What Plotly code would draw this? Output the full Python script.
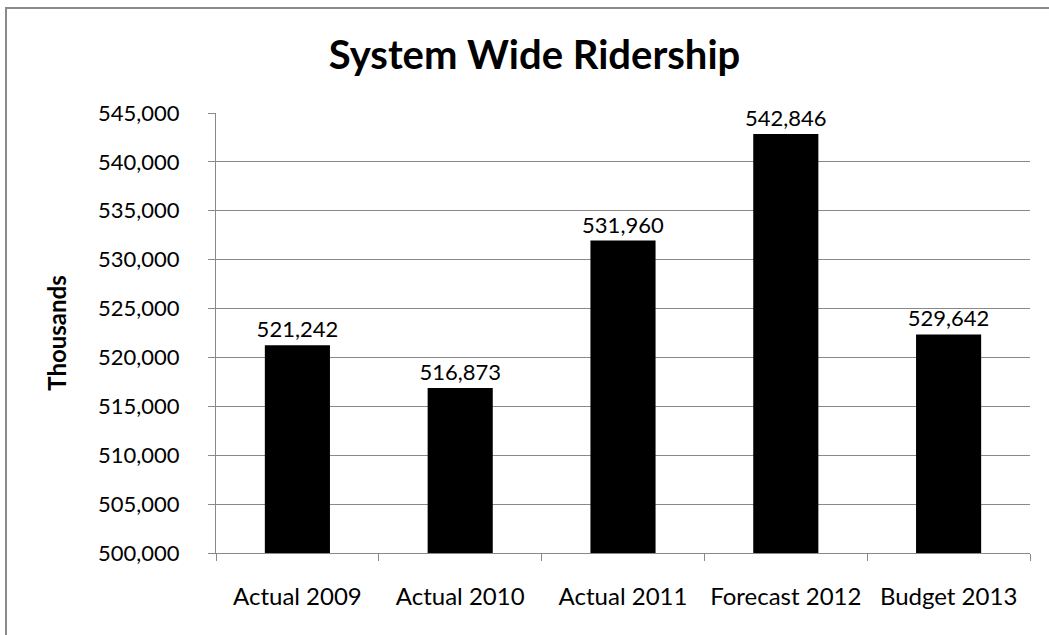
import plotly.graph_objects as go

categories = ["Actual 2009", "Actual 2010", "Actual 2011", "Forecast 2012", "Budget 2013"]
bar_values = [521242, 516873, 531960, 542846, 522350]
label_texts = ["521,242", "516,873", "531,960", "542,846", "529,642"]
y_ticks = [500000, 505000, 510000, 515000, 520000, 525000, 530000, 535000, 540000, 545000]

FONT = "Lato"
GRID = "#898989"

W, H = 1049, 635
L, R, T, B = 216, 19, 113, 82

fig = go.Figure(go.Bar(
    x=categories, y=bar_values,
    marker=dict(color="black", line=dict(width=0)),
    text=label_texts, textposition="outside", cliponaxis=False,
    constraintext="none",
    textfont=dict(family=FONT, size=22, color="black"),
))

pw = W - L - R
ph = H - T - B

fig.update_layout(
    width=W, height=H,
    margin=dict(l=L, r=R, t=T, b=B, pad=0),
    paper_bgcolor="white", plot_bgcolor="white",
    bargap=0.6,
    showlegend=False,
    title=dict(text="<b>System Wide Ridership</b>", x=(W / 2 + 10) / W, xanchor="center",
               y=1 - 55 / H, yanchor="middle",
               font=dict(family=FONT, size=40, color="black")),
    font=dict(family=FONT, color="black"),
    xaxis=dict(
        showline=True, linecolor=GRID, linewidth=1,
        ticks="outside", ticklen=7, tickcolor=GRID, tickson="boundaries",
        ticklabelstandoff=22,
        tickfont=dict(family=FONT, size=24, color="black"),
        showgrid=False,
    ),
    yaxis=dict(
        range=[500000, 545000],
        tickvals=y_ticks, tickformat=",",
        showline=True, linecolor=GRID, linewidth=1,
        ticks="outside", ticklen=7, tickcolor=GRID,
        ticklabelstandoff=24,
        showgrid=True, gridcolor=GRID, gridwidth=1,
        zeroline=False,
        tickfont=dict(family=FONT, size=22, color="black"),
        title=dict(text="<b>Thousands</b>", standoff=24,
                   font=dict(family=FONT, size=24, color="black")),
    ),
)

# outer chart border (top and left visible, others cropped)
fig.add_shape(type="rect", xref="paper", yref="paper",
              x0=(6 - L) / pw, x1=(W + 20 - L) / pw,
              y0=-(H + 20 - (T + ph)) / ph, y1=(T + ph - 8) / ph,
              line=dict(color="#8a8a8a", width=2), fillcolor="rgba(0,0,0,0)",
              layer="below")

fig.write_html("out.html",
               config={"displayModeBar": False},
               post_script="document.body.style.margin='0';document.body.style.overflow='hidden';")
